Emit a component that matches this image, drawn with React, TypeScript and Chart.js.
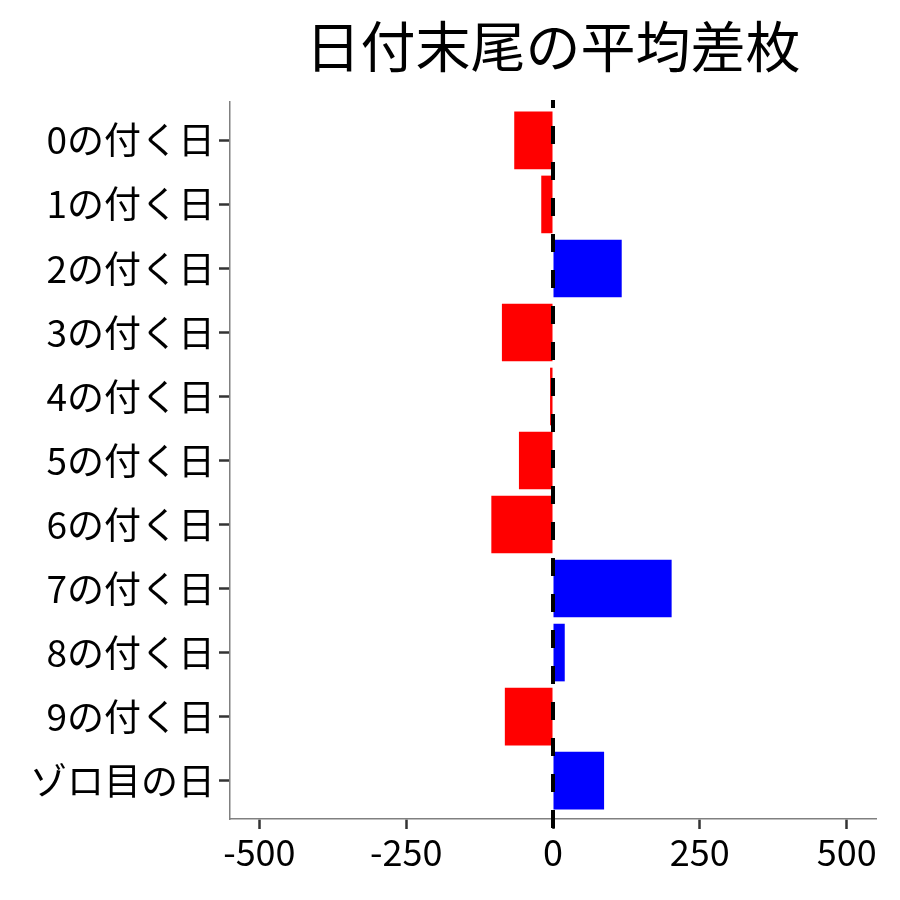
import React, { useEffect, useRef } from "react";
import { Chart, registerables, Plugin } from "chart.js";

Chart.register(...registerables);

const FONT = "'Noto Sans CJK JP', 'Noto Sans', sans-serif";

const titleText = "日付末尾の平均差枚";
const categories = [
  "0の付く日", "1の付く日", "2の付く日", "3の付く日", "4の付く日", "5の付く日",
  "6の付く日", "7の付く日", "8の付く日", "9の付く日", "ゾロ目の日",
];
const avgDiff = [-66, -20, 117, -87, -5, -58, -105, 202, 20, -82, 87];
const xTicks = [-500, -250, 0, 250, 500];

// 0 line (dashed) + title centred on plot area
const overlay: Plugin<"bar"> = {
  id: "overlay",
  afterDatasetsDraw(chart) {
    const { ctx, chartArea, scales } = chart;
    const x0 = scales.x.getPixelForValue(0);
    ctx.save();
    ctx.strokeStyle = "#000";
    ctx.lineWidth = 4;
    ctx.setLineDash([18, 18]);
    ctx.lineDashOffset = 10;
    ctx.beginPath();
    ctx.moveTo(x0, chartArea.top - 2);
    ctx.lineTo(x0, chartArea.bottom + 11);
    ctx.stroke();
    ctx.restore();
  },
  afterDraw(chart) {
    const { ctx, chartArea } = chart;
    ctx.save();
    ctx.fillStyle = "#000";
    ctx.font = `55px ${FONT}`;
    ctx.textAlign = "center";
    ctx.textBaseline = "middle";
    ctx.fillText(titleText, (chartArea.left + chartArea.right) / 2, 46);
    ctx.restore();
  },
};

const App = () => {
  const canvasRef = useRef<HTMLCanvasElement | null>(null);
  const chartRef = useRef<Chart | null>(null);

  useEffect(() => {
    document.body.style.margin = "0";
    if (chartRef.current) chartRef.current.destroy();
    const ctx = canvasRef.current?.getContext("2d");
    if (!ctx) return;

    chartRef.current = new Chart(ctx, {
      type: "bar",
      data: {
        datasets: [
          {
            data: avgDiff.map((v, i) => ({ x: v, y: i })),
            backgroundColor: avgDiff.map((v) => (v < 0 ? "#ff0000" : "#0000ff")),
            barPercentage: 0.9,
            categoryPercentage: 1,
          },
        ],
      },
      options: {
        indexAxis: "y",
        animation: false,
        responsive: false,
        layout: { padding: { top: 102, right: 24, left: 0, bottom: 0 } },
        plugins: {
          legend: { display: false },
          tooltip: { enabled: false },
          title: { display: false },
        },
        scales: {
          x: {
            type: "linear",
            min: -550,
            max: 550,
            afterBuildTicks: (scale) => {
              scale.ticks = xTicks.map((v) => ({ value: v }));
            },
            afterFit: (scale) => {
              scale.height = 81;
            },
            grid: {
              drawOnChartArea: false,
              drawTicks: true,
              tickLength: 10,
              tickWidth: 2.5,
              tickColor: "#333",
            },
            border: { display: true, color: "#808080", width: 1.5 },
            ticks: {
              color: "#000",
              font: { family: FONT, size: 36 },
              padding: 2,
              maxRotation: 0,
              callback: (v) => String(v),
            },
          },
          y: {
            type: "linear",
            reverse: true,
            min: -0.6,
            max: categories.length - 0.4,
            offset: false,
            afterBuildTicks: (scale) => {
              scale.ticks = categories.map((_, i) => ({ value: i }));
            },
            afterFit: (scale) => {
              scale.width = 230;
            },
            grid: {
              offset: false,
              drawOnChartArea: false,
              drawTicks: true,
              tickLength: 11,
              tickWidth: 2.5,
              tickColor: "#333",
            },
            border: { display: true, color: "#808080", width: 1.5 },
            ticks: {
              color: "#000",
              font: { family: FONT, size: 37 },
              padding: 4,
              autoSkip: false,
              callback: (v) => categories[Number(v)] ?? "",
            },
          },
        },
      },
      plugins: [overlay],
    });

    return () => {
      if (chartRef.current) {
        chartRef.current.destroy();
        chartRef.current = null;
      }
    };
  }, []);

  return (
    <div style={{ width: 900, height: 900 }}>
      <canvas ref={canvasRef} width={900} height={900} style={{ width: 900, height: 900 }} />
    </div>
  );
};

export default App;
